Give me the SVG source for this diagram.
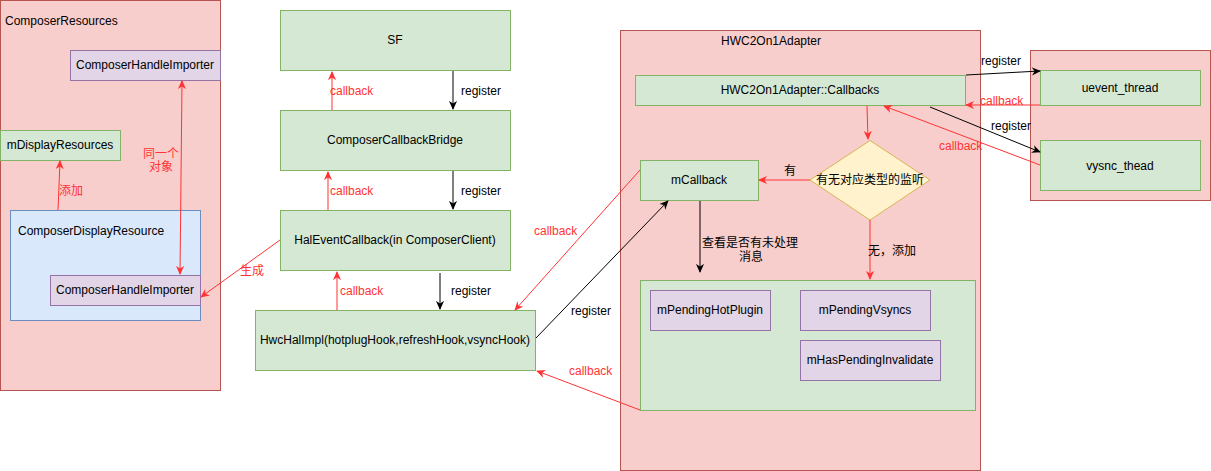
<svg xmlns="http://www.w3.org/2000/svg" width="1211" height="471" viewBox="0 0 1211 471">
<style>
text{font-family:"Liberation Sans","Noto Sans CJK SC",sans-serif;font-size:12px;fill:#000}
.c{text-anchor:middle}
.r{fill:#FF3333}
.pink{fill:#f8cecc;stroke:#b85450}
.green{fill:#d5e8d4;stroke:#82b366}
.purple{fill:#e1d5e7;stroke:#9673a6}
.blue{fill:#dae8fc;stroke:#6c8ebf}
.yellow{fill:#fff2cc;stroke:#d6b656}
.er{fill:none;stroke:#FF3333;stroke-width:1}
.eb{fill:none;stroke:#000;stroke-width:1}
</style>
<defs>
<marker id="ar" viewBox="0 0 10 10" refX="9" refY="5" markerWidth="9" markerHeight="9" markerUnits="userSpaceOnUse" orient="auto-start-reverse"><path d="M0,0.5 L10,5 L0,9.5 L3,5 Z" fill="#FF3333"/></marker>
<marker id="ab" viewBox="0 0 10 10" refX="9" refY="5" markerWidth="9" markerHeight="9" markerUnits="userSpaceOnUse" orient="auto-start-reverse"><path d="M0,0.5 L10,5 L0,9.5 L3,5 Z" fill="#000"/></marker>
</defs>
<g id="composerResources"><rect class="pink" x="0.5" y="0.5" width="220" height="390"/><text x="5" y="25">ComposerResources</text></g>
<g id="importerTop"><rect class="purple" x="70.5" y="50.5" width="150" height="30"/><text class="c" x="145" y="69">ComposerHandleImporter</text></g>
<g id="mDisplayResources"><rect class="green" x="0.5" y="130.5" width="120" height="30"/><text class="c" x="60" y="149">mDisplayResources</text></g>
<g id="composerDisplayResource"><rect class="blue" x="10.5" y="210.5" width="190" height="110"/><text x="18" y="235">ComposerDisplayResource</text></g>
<g id="importerInner"><rect class="purple" x="50.5" y="275.5" width="150" height="30"/><text class="c" x="125" y="294">ComposerHandleImporter</text></g>
<g id="sf"><rect class="green" x="280.5" y="10.5" width="230" height="60"/><text class="c" x="395" y="44">SF</text></g>
<g id="bridge"><rect class="green" x="280.5" y="110.5" width="230" height="60"/><text class="c" x="395" y="144">ComposerCallbackBridge</text></g>
<g id="halEventCallback"><rect class="green" x="280.5" y="210.5" width="230" height="60"/><text class="c" x="395" y="244">HalEventCallback(in ComposerClient)</text></g>
<g id="hwcHalImpl"><rect class="green" x="255.5" y="310.5" width="280" height="60"/><text class="c" x="395" y="344">HwcHalImpl(hotplugHook,refreshHook,vsyncHook)</text></g>
<g id="adapter"><rect class="pink" x="620.5" y="30.5" width="360" height="440"/><text class="c" x="771" y="45">HWC2On1Adapter</text></g>
<g id="callbacks"><rect class="green" x="635.5" y="75.5" width="330" height="30"/><text class="c" x="800" y="94">HWC2On1Adapter::Callbacks</text></g>
<g id="decision"><path class="yellow" d="M870,140.5 L930,180 L870,220 L810,180 Z"/><text class="c" x="870" y="184">有无对应类型的监听</text></g>
<g id="mCallback"><rect class="green" x="640.5" y="160.5" width="118" height="40"/><text class="c" x="699" y="184">mCallback</text></g>
<g id="pending"><rect class="green" x="640.5" y="280.5" width="335" height="130"/></g>
<g id="mPendingHotPlugin"><rect class="purple" x="650.5" y="290.5" width="120" height="40"/><text class="c" x="710" y="314">mPendingHotPlugin</text></g>
<g id="mPendingVsyncs"><rect class="purple" x="800.5" y="290.5" width="130" height="40"/><text class="c" x="865" y="314">mPendingVsyncs</text></g>
<g id="mHasPendingInvalidate"><rect class="purple" x="800.5" y="340.5" width="140" height="40"/><text class="c" x="870" y="364">mHasPendingInvalidate</text></g>
<g id="threads"><rect class="pink" x="1030.5" y="50.5" width="180" height="150"/></g>
<g id="uevent"><rect class="green" x="1040.5" y="70.5" width="160" height="35"/><text class="c" x="1120" y="92">uevent_thread</text></g>
<g id="vsync"><rect class="green" x="1040.5" y="140.5" width="160" height="50"/><text class="c" x="1120" y="170">vysnc_thead</text></g>
<g id="connectors">
<path class="er" d="M58,210 L60,161" marker-end="url(#ar)"/>
<path class="er" d="M182,81 L180,274" marker-start="url(#ar)" marker-end="url(#ar)"/>
<path class="er" d="M280,240 L201,297" marker-end="url(#ar)"/>
<path class="eb" d="M453,71 L453,109" marker-end="url(#ab)"/>
<path class="eb" d="M453,171 L453,209" marker-end="url(#ab)"/>
<path class="eb" d="M440,273 L440,309" marker-end="url(#ab)"/>
<path class="er" d="M332,110 L332,72" marker-end="url(#ar)"/>
<path class="er" d="M328,210 L328,172" marker-end="url(#ar)"/>
<path class="er" d="M337,310 L337,272" marker-end="url(#ar)"/>
<path class="er" d="M640,170 L515,310" marker-end="url(#ar)"/>
<path class="eb" d="M536,338 L668,201" marker-end="url(#ab)"/>
<path class="er" d="M640,410 L537,371" marker-end="url(#ar)"/>
<path class="er" d="M867,106 L868,139" marker-end="url(#ar)"/>
<path class="er" d="M810,180 L759,180" marker-end="url(#ar)"/>
<path class="eb" d="M700,201 L700,272" marker-end="url(#ab)"/>
<path class="er" d="M870,220 L870,279" marker-end="url(#ar)"/>
<path class="eb" d="M966,75 L1040,71" marker-end="url(#ab)"/>
<path class="er" d="M1040,105 L966,105" marker-end="url(#ar)"/>
<path class="eb" d="M930,107 L1040,152" marker-end="url(#ab)"/>
<path class="er" d="M1040,165 L884,106" marker-end="url(#ar)"/>
<text class="r" x="59" y="195">添加</text>
<text class="r c" x="161" y="158">同一个</text>
<text class="r c" x="161" y="171">对象</text>
<text class="r" x="240" y="275">生成</text>
<text x="461" y="95">register</text>
<text x="461" y="195">register</text>
<text x="451" y="295">register</text>
<text class="r" x="330" y="95">callback</text>
<text class="r" x="330" y="195">callback</text>
<text class="r" x="340" y="295">callback</text>
<text class="r" x="534" y="235">callback</text>
<text x="571" y="315">register</text>
<text class="r" x="569" y="375">callback</text>
<text class="c" x="790" y="175">有</text>
<text class="c" x="750" y="247">查看是否有未处理</text>
<text class="c" x="751" y="261">消息</text>
<text x="868" y="255">无，添加</text>
<text x="981" y="65">register</text>
<text class="r" x="980" y="105">callback</text>
<text x="991" y="130">register</text>
<text class="r" x="939" y="150">callback</text>
</g>
</svg>
